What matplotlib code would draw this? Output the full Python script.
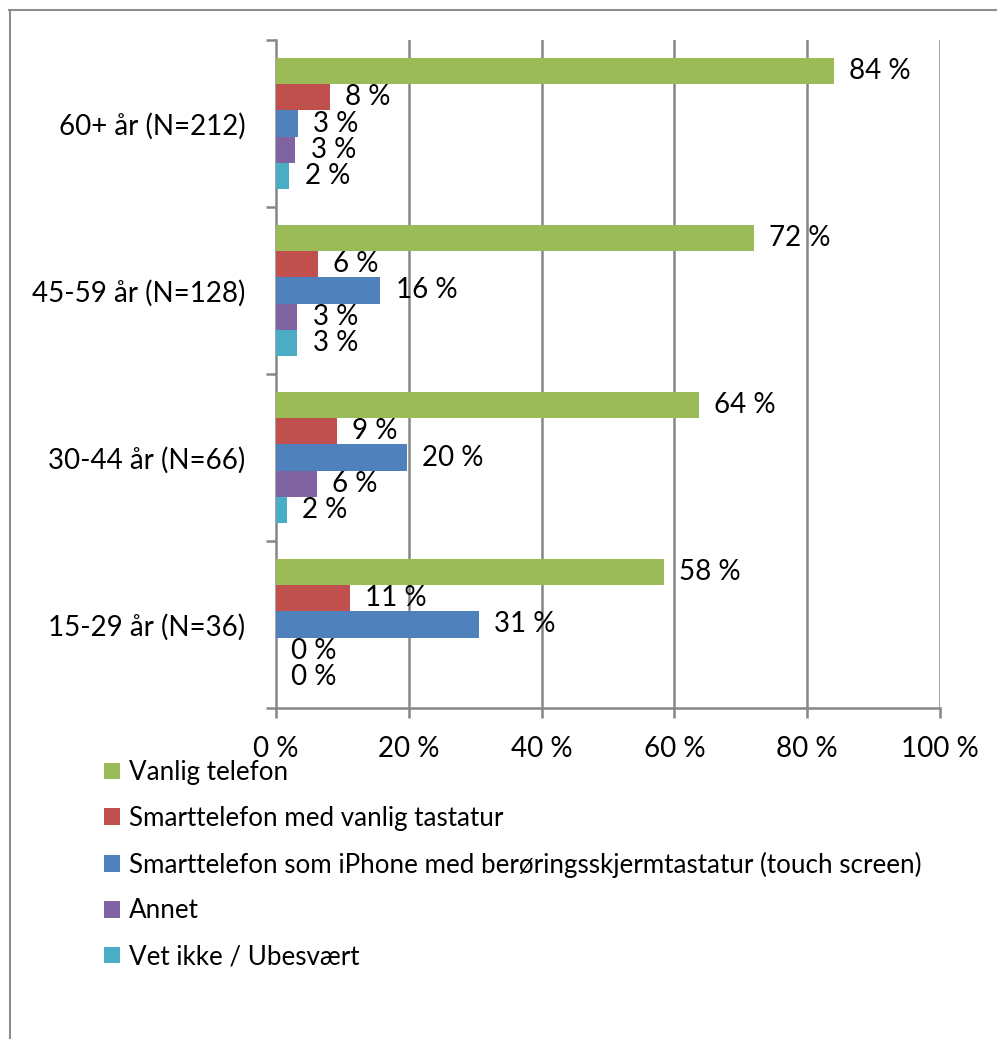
import numpy as np
import matplotlib.pyplot as plt
from matplotlib.patches import Patch
from matplotlib.lines import Line2D

plt.rcParams['font.family'] = ['Lato', 'DejaVu Sans']

# --- data ---
groups = ["60+ år (N=212)", "45-59 år (N=128)", "30-44 år (N=66)", "15-29 år (N=36)"]
series = ["Vanlig telefon",
          "Smarttelefon med vanlig tastatur",
          "Smarttelefon som iPhone med berøringsskjermtastatur (touch screen)",
          "Annet",
          "Vet ikke / Ubesvært"]
vanlig = [84.0, 72.0, 63.7, 58.4]
smart_tast = [8.1, 6.3, 9.2, 11.1]
smart_touch = [3.3, 15.7, 19.7, 30.6]
annet = [2.9, 3.2, 6.2, 0.0]
vet_ikke = [2.0, 3.2, 1.6, 0.0]
values = [vanlig, smart_tast, smart_touch, annet, vet_ikke]
colors = ['#9BBB59', '#C0504D', '#4F81BD', '#8064A2', '#4BACC6']
xticks = [0, 20, 40, 60, 80, 100]

fig = plt.figure(figsize=(9.97, 10.39), dpi=100)
ax = fig.add_axes([276/997, 1 - 708/1039, 664/997, 668/1039])

grid_c = '#868686'
fs = 20
bh = 0.156
y = np.arange(len(groups))
for i, (vals, c) in enumerate(zip(values, colors)):
    pos = y - 2 * bh + i * bh
    bars = ax.barh(pos, vals, height=bh, color=c, zorder=3)
    ax.bar_label(bars, labels=[f"{v:.0f} %" for v in vals], padding=11,
                 fontsize=fs, zorder=4)

ax.set_xlim(0, 100)
ax.set_ylim(len(groups) - 0.5, -0.5)
ax.set_xticks(xticks)
ax.set_xticklabels([f"{t} %" for t in xticks], fontsize=fs)
ax.set_yticks(y)
ax.set_yticklabels(groups, fontsize=fs)
ax.set_yticks(np.arange(len(groups) + 1) - 0.5, minor=True)

for t in xticks[1:]:
    ax.axvline(t, color=grid_c, lw=1.8, zorder=1)

for s in ['top', 'right', 'bottom']:
    ax.spines[s].set_visible(False)
ax.spines['left'].set_color(grid_c)
ax.spines['left'].set_linewidth(1.8)
ax.axhline(len(groups) - 0.5, color=grid_c, lw=1.8, zorder=2, clip_on=False)

ax.tick_params(axis='y', which='major', length=0, pad=22)
ax.tick_params(axis='y', which='minor', length=7, width=1.8, color=grid_c)
ax.tick_params(axis='x', length=7, width=1.8, color=grid_c, pad=13)

handles = [Patch(facecolor=c, label=s) for s, c in zip(series, colors)]
fig.legend(handles=handles, loc='upper left', bbox_to_anchor=(104/997, 1 - 760/1039),
           frameon=False, fontsize=18.7, handlelength=0.6, handleheight=0.6,
           handletextpad=0.35, labelspacing=0.8, borderaxespad=0, borderpad=0)

# outer frame (top and left edges visible)
fig.add_artist(Line2D([9.5/997, 9.5/997], [0, 1 - 10/1039], color='#8c8c8c', lw=1.5))
fig.add_artist(Line2D([9/997, 1], [1 - 10/1039, 1 - 10/1039], color='#8c8c8c', lw=1.5))

fig.savefig('out.png', dpi=100)
